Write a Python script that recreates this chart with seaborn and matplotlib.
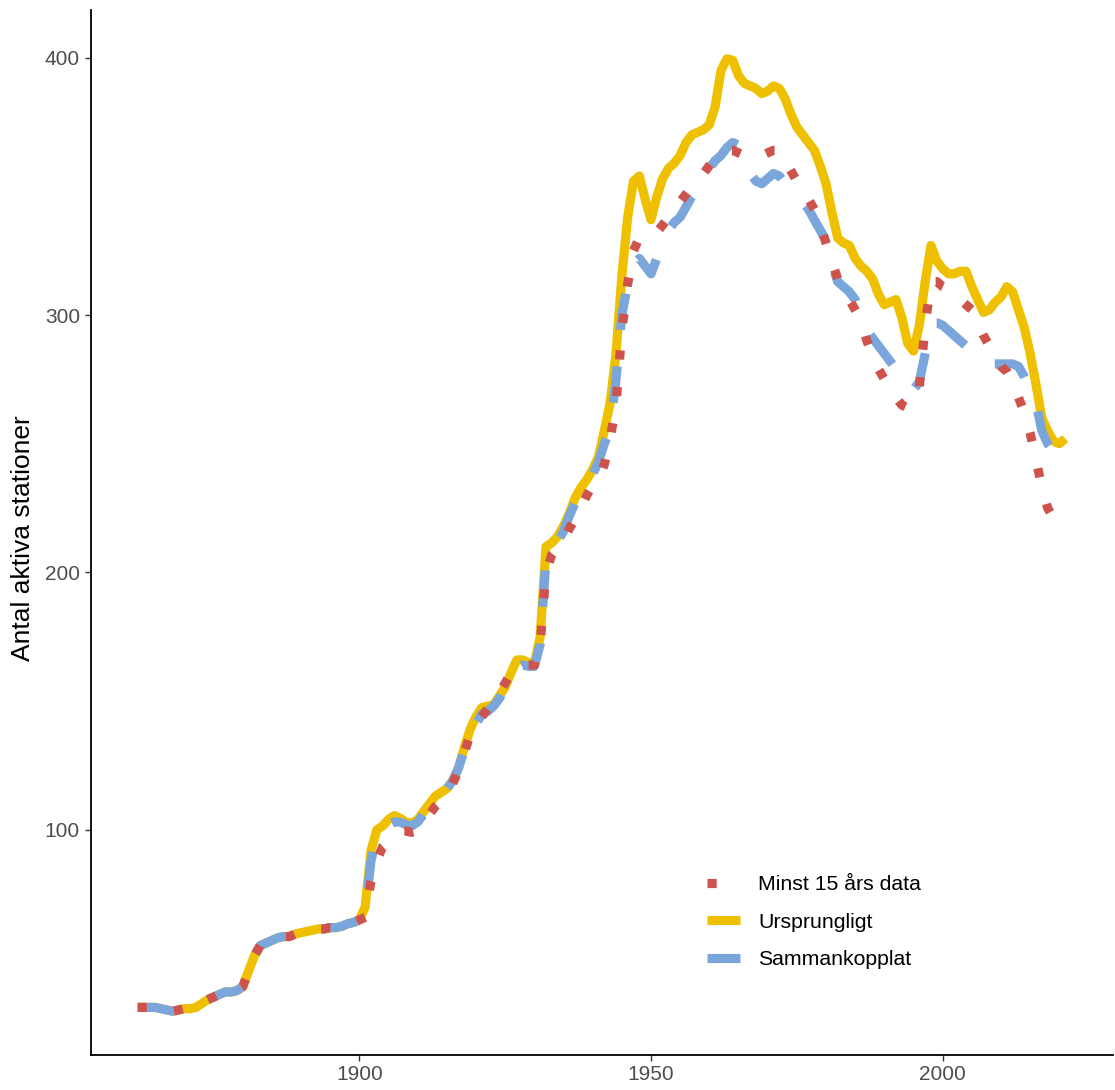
import numpy as np
import pandas as pd
import matplotlib
matplotlib.use("Agg")
import matplotlib.pyplot as plt
import seaborn as sns

# Shared early history (identical for all three series), 1862-1900
early = [31, 31, 31, 31, 30.5, 30, 29.5, 30, 30.5, 30.5,
         31, 32.5, 34, 35, 36, 37, 37, 37.5, 39, 45,
         51, 55, 56, 57, 58, 58.5, 58.5, 59.5, 60, 60.5,
         61, 61.5, 61.5, 62, 62, 62.5, 63.5, 64, 65]

# Ursprungligt, 1901-2021
ursprungligt_late = [70, 92, 100, 101.5, 104, 105.5, 104.5, 103, 102.5, 104,
                     107, 110, 113, 114.5, 116, 119, 124, 132, 139, 144,
                     147.5, 148, 148.5, 152, 155.5, 161, 166, 166, 165, 164.5,
                     175, 210, 211.5, 214, 218, 223, 229, 233, 236, 240,
                     245, 255, 266, 285, 315, 338, 352, 354, 345, 337,
                     346, 353, 357, 359, 362, 367, 370, 371, 372, 374,
                     381, 395, 399.5, 399, 393, 390, 389, 388, 386, 387,
                     389, 388, 384, 378, 373, 370, 367, 364, 358, 351,
                     340, 330, 328, 327, 322, 319, 317, 314, 308, 304,
                     305, 306, 299, 289, 286, 296, 313, 327, 321, 318,
                     316, 316, 317, 317, 311, 306, 301, 302, 305, 307,
                     311, 309, 302, 295, 285, 273, 260, 255, 251, 250,
                     252]

# Sammankopplat, 1901-2021
sammankopplat_late = [68, 88, 98, 100, 102, 103, 103, 102, 101.5, 103,
                      106, 109, 112, 114, 116, 119, 124, 131, 137, 141,
                      145, 146, 148, 151, 155, 160, 163, 164, 163.5, 163.5,
                      172, 205, 209, 212, 216, 222, 227, 230, 234, 238,
                      243, 250, 256, 275, 300, 312, 320, 322, 319, 316,
                      322, 329, 333, 336, 338, 342, 346, 349, 353, 357,
                      360, 362, 365, 367, 366, 361, 355, 352, 351, 353,
                      355, 354, 351, 349, 347, 344, 341, 337, 333, 329,
                      320, 313, 311, 309, 306, 300, 294, 291, 288, 285,
                      282, 279, 274, 272, 271, 274, 285, 297, 297, 296,
                      294, 292, 290, 288, 287, 285, 282, 281, 281, 281,
                      281, 281, 280, 276, 271, 266, 255, 250, 247, 244,
                      243]

# Minst 15 års data, 1901-2019
minst15_late = [66, 80, 88, 93.5, 95.5, 98, 99.5, 99.5, 99, 99.5,
                102, 106, 109, 111, 114, 118, 123, 130, 137, 141,
                144, 147, 149.5, 153, 157, 161, 163.5, 164, 164, 164,
                172, 200, 207, 210, 212, 217, 221, 225, 230, 234,
                236, 242, 252, 265, 294, 312, 325, 330, 331, 331,
                332, 335, 338, 341, 344, 347, 350, 353, 355, 358,
                361, 363, 364, 364, 363, 362, 361, 361, 362, 363,
                364, 364, 360, 356, 352, 349, 345, 341, 335, 328,
                321, 314, 310, 306, 302, 298, 290, 284, 279, 275,
                271, 268, 265, 264, 266, 272, 296, 313, 313, 311,
                310, 308, 306, 304, 302, 297, 292, 288, 284, 280,
                278, 274, 268, 262, 254, 244, 233, 225, 221]

ursprungligt = early + ursprungligt_late
sammankopplat = early + sammankopplat_late
minst15 = early + minst15_late

years_full = list(range(1862, 1862 + len(ursprungligt)))
years_minst = list(range(1862, 1862 + len(minst15)))

series_labels = ["Minst 15 års data", "Ursprungligt", "Sammankopplat"]
series_colors = {"Minst 15 års data": "#CD534C",
                 "Ursprungligt": "#EFC000",
                 "Sammankopplat": "#7AA6DC"}

df = pd.concat([
    pd.DataFrame({"år": years_minst, "antal": minst15, "serie": series_labels[0]}),
    pd.DataFrame({"år": years_full, "antal": ursprungligt, "serie": series_labels[1]}),
    pd.DataFrame({"år": years_full, "antal": sammankopplat, "serie": series_labels[2]}),
], ignore_index=True)

sns.set_theme(style="ticks")
plt.rcParams["font.family"] = ["Liberation Sans", "DejaVu Sans"]

fig = plt.figure(figsize=(11.15, 10.9), dpi=100)
ax = fig.add_axes([91 / 1115, 35 / 1090, (1113 - 91) / 1115, (1055 - 10) / 1090])

lw = 6.6
styles = {
    "Ursprungligt": dict(linestyle="-", solid_capstyle="butt", solid_joinstyle="round"),
    "Sammankopplat": dict(linestyle=(0, (4, 4)), dash_capstyle="butt", dash_joinstyle="round"),
    "Minst 15 års data": dict(linestyle=(0, (1, 3)), dash_capstyle="butt", dash_joinstyle="round"),
}
draw_order = ["Ursprungligt", "Sammankopplat", "Minst 15 års data"]
handles = {}
for name in draw_order:
    sub = df[df["serie"] == name]
    sns.lineplot(data=sub, x="år", y="antal", ax=ax, color=series_colors[name],
                 linewidth=lw, label=name, **styles[name])
    handles[name] = ax.get_lines()[-1]

ax.set_xlim(1854, 2029.2)
ax.set_ylim(12.5, 418.5)
ax.set_xticks([1900, 1950, 2000])
ax.set_yticks([100, 200, 300, 400])
ax.set_xlabel("")
ax.set_ylabel("Antal aktiva stationer", fontsize=19, color="black")
ax.yaxis.set_label_coords(-0.055, 0.495)

for side in ["top", "right"]:
    ax.spines[side].set_visible(False)
for side in ["left", "bottom"]:
    ax.spines[side].set_linewidth(1.3)
    ax.spines[side].set_color("black")
ax.tick_params(axis="both", length=4, width=1.0, color="#333333",
               labelsize=15, labelcolor="#4D4D4D")
ax.tick_params(axis="x", pad=3)
ax.tick_params(axis="y", pad=4)

leg = ax.legend([handles[n] for n in series_labels], series_labels,
                loc="center left", bbox_to_anchor=(707 / 1115, 1 - 922 / 1090),
                bbox_transform=fig.transFigure, frameon=False, fontsize=15.3,
                handlelength=1.55, handletextpad=0.85, labelspacing=0.87,
                borderpad=0, borderaxespad=0)
for t in leg.get_texts():
    t.set_color("black")

fig.savefig("out.png", dpi=100)
